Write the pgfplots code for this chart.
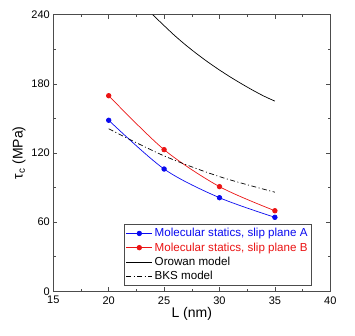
\documentclass[border=0pt]{standalone}
\usepackage{fontspec}
\setmainfont{Liberation Sans}
\usepackage{pgfplots}
\pgfplotsset{compat=1.18}
\usetikzlibrary{calc}
\definecolor{msBlue}{RGB}{10,10,240}
\definecolor{msRed}{RGB}{235,20,20}
\begin{document}
\begin{tikzpicture}
\begin{axis}[
    scale only axis, width=277pt, height=276.6pt,
    xmin=15, xmax=40, ymin=0, ymax=240,
    xtick={15,20,...,40}, ytick={0,60,...,240},
    minor x tick num=1, minor y tick num=1,
    tick align=inside, tick pos=both,
    major tick length=4pt, minor tick length=2.5pt,
    every tick/.style={black!70, line width=0.5pt},
    axis line style={black!70, line width=0.6pt},
    /pgf/number format/assume math mode=true,
    tick label style={font=\fontsize{11}{13}\selectfont},
    xticklabel style={yshift=-1.5pt},
    label style={font=\fontsize{14}{16}\selectfont},
    xlabel={L (nm)}, ylabel={τ\textsubscript{c} (MPa)},
    xlabel style={yshift=4pt}, ylabel style={yshift=-1pt},
    legend style={at={(0.933,0.022)}, anchor=south east, draw=black!70,
      font=\fontsize{11.6}{13.4}\selectfont, inner sep=2pt, row sep=0.3pt,
      legend cell align=left},
    legend image code/.code={\draw[mark repeat=2,mark phase=2,#1]
      plot coordinates {(0cm,0cm)(0.46cm,0cm)(0.92cm,0cm)};},
    clip=true,
]
\addplot[msBlue, line width=0.7pt, smooth, mark=*, mark size=2.3pt]
  coordinates {(20,148.4)(25,106.1)(30,81.2)(35,64.2)};
\addlegendentry{\textcolor{msBlue}{Molecular statics, slip plane A}}
\addplot[msRed, line width=0.7pt, smooth, mark=*, mark size=2.3pt]
  coordinates {(20,169.7)(25,122.9)(30,90.8)(35,69.9)};
\addlegendentry{\textcolor{msRed}{Molecular statics, slip plane B}}
% Orowan model
\addplot[black, line width=0.7pt, smooth]
  coordinates {(23.97,240)(25,230.5)(26,221.5)(27,213.3)(28,205.7)(29,198.6)
    (30,192)(31,185.8)(32,180)(33,174.5)(34,169.4)(35,165)};
\addlegendentry{Orowan model}
% BKS model
\addplot[black, line width=0.7pt, dash pattern=on 5pt off 2.5pt on 1pt off 2.5pt, smooth]
  coordinates {(20,141)(25,117.5)(30,99.5)(35,86)};
\addlegendentry{BKS model}
\end{axis}
\path ($(current axis.south west)+(-53.3pt,-43.7pt)$) rectangle ($(current axis.north east)+(24.7pt,14.7pt)$);
\end{tikzpicture}
\end{document}
